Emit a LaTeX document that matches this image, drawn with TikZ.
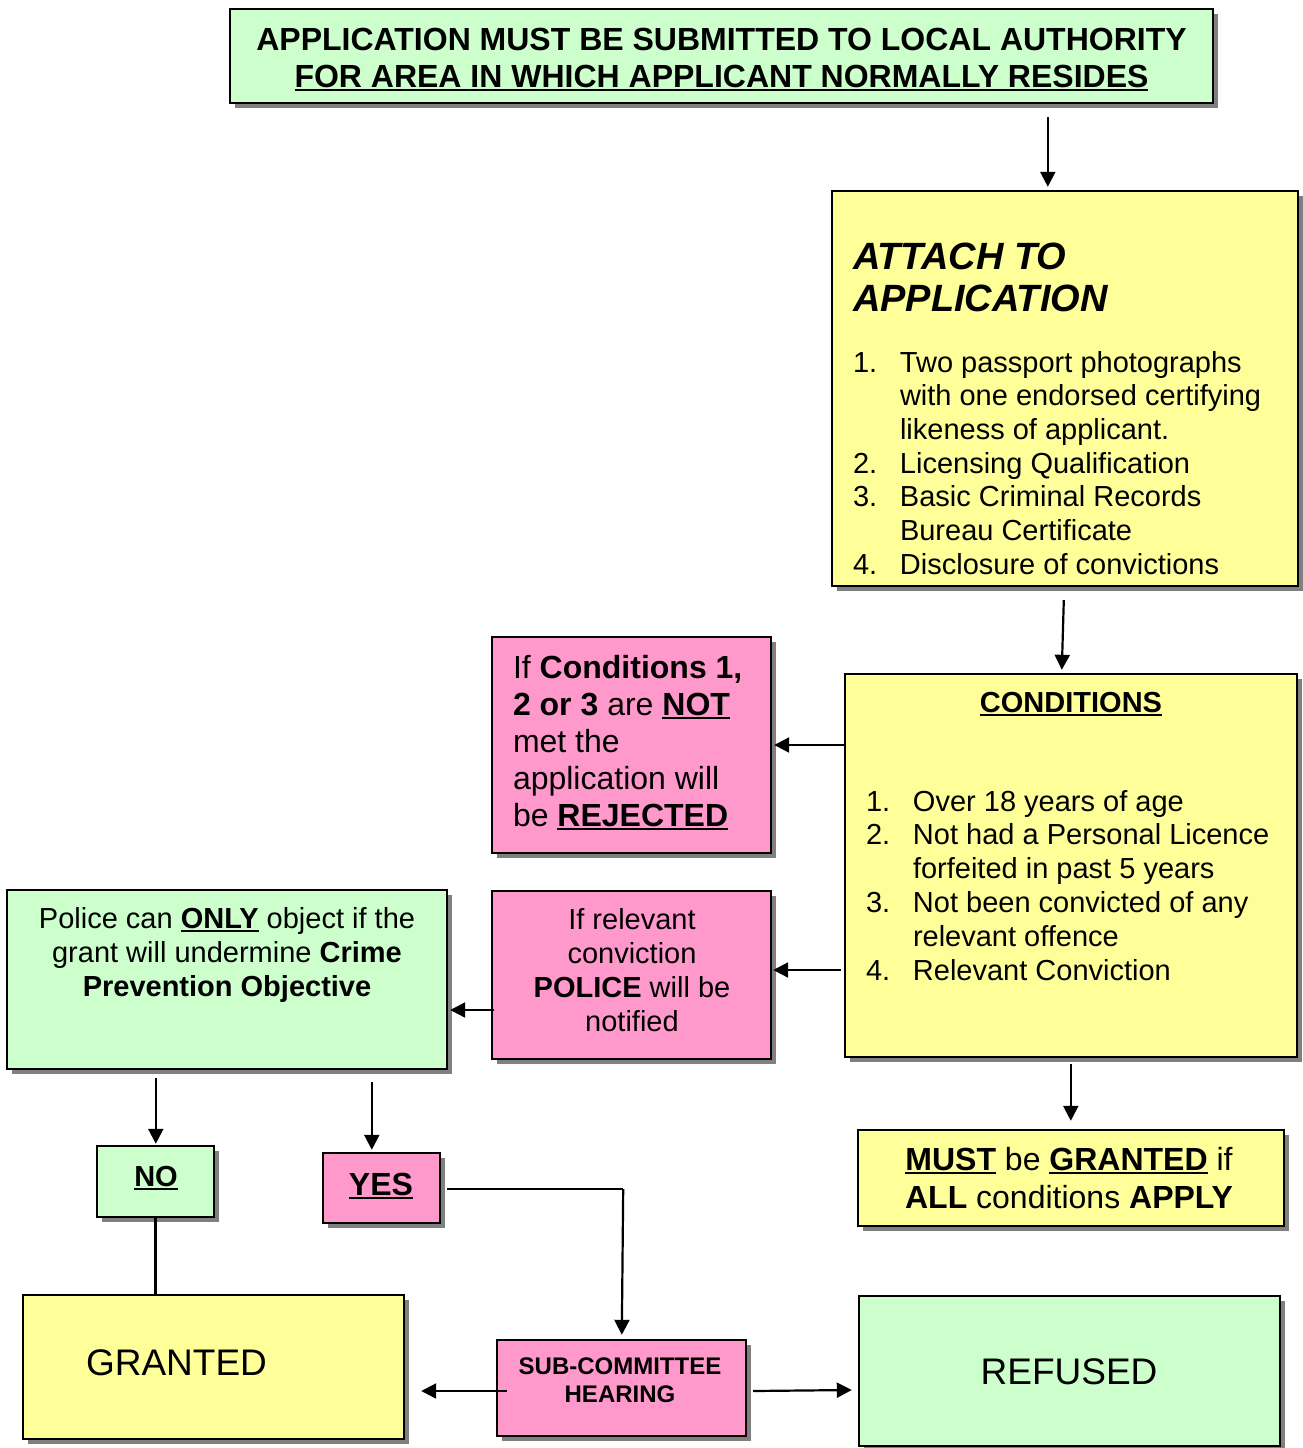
\documentclass[tikz,border=0pt]{standalone}
\usepackage{fontspec}
\setmainfont{Liberation Sans}
\usetikzlibrary{arrows.meta,shadows,calc}
\definecolor{boxgreen}{HTML}{CCFFCC}
\definecolor{boxyellow}{HTML}{FFFF99}
\definecolor{boxpink}{HTML}{FF99CC}
\definecolor{shadowgray}{HTML}{808080}
\newcommand\ulx[1]{\mbox{\setbox0\hbox{#1}\rlap{\rule[-0.14em]{\wd0}{0.085em}}\box0}}
\newcommand\fs[2]{\fontsize{#1}{#2}\selectfont}
\newcommand\itm[1]{\makebox[47pt][l]{#1}}
\tikzset{
  box/.style={draw=black, line width=2.4pt, rectangle, inner sep=0pt,
    drop shadow={shadow xshift=5pt, shadow yshift=-5pt, opacity=1, fill=shadowgray}},
  gbox/.style={box, fill=boxgreen},
  ybox/.style={box, fill=boxyellow},
  pbox/.style={box, fill=boxpink},
  txt/.style={inner sep=0pt, outer sep=0pt, text=black},
  arr/.style={line width=2.2pt, -{Triangle[length=15pt,width=15pt]}},
  ln/.style={line width=2.2pt}
}
\begin{document}
\begin{tikzpicture}[x=1pt,y=-1pt]
\useasboundingbox (0,0) rectangle (1302,1448);
% boxes
\node[gbox, minimum width=983pt, minimum height=94pt] (title) at (721.5,56) {};
\node[ybox, minimum width=466pt, minimum height=395pt] (attach) at (1065,388.5) {};
\node[ybox, minimum width=452pt, minimum height=383pt] (cond) at (1071,865.5) {};
\node[pbox, minimum width=279pt, minimum height=216pt] (rej) at (631.5,745) {};
\node[pbox, minimum width=279pt, minimum height=168pt] (pol) at (631.5,975) {};
\node[gbox, minimum width=440pt, minimum height=179pt] (obj) at (227,979.5) {};
\node[gbox, minimum width=117pt, minimum height=71pt] (no) at (155.5,1181.5) {};
\node[pbox, minimum width=117pt, minimum height=70pt] (yes) at (381.5,1188) {};
\node[ybox, minimum width=426pt, minimum height=96pt] (must) at (1071,1178) {};
\node[ybox, minimum width=381pt, minimum height=144pt] (granted) at (213.5,1367) {};
\node[pbox, minimum width=249pt, minimum height=96pt] (sub) at (621.5,1388) {};
\node[gbox, minimum width=421pt, minimum height=150pt] (refused) at (1069.5,1371) {};

% texts
\node[txt, anchor=base, font=\fs{32}{37}\bfseries] (titletext) at (721.5,50)
  {\begin{tabular}[t]{@{}c@{}}APPLICATION MUST BE SUBMITTED TO LOCAL AUTHORITY\\ \ulx{FOR AREA IN WHICH APPLICANT NORMALLY RESIDES}\end{tabular}};
\node[txt, anchor=base west, font=\fs{38}{42}\bfseries\itshape] (attachhead) at (853,269)
  {\begin{tabular}[t]{@{}l@{}}ATTACH TO\\ APPLICATION\end{tabular}};
\node[txt, anchor=base west, font=\fs{29}{33.7}] (attachlist) at (853,372)
  {\begin{tabular}[t]{@{}l@{}}
  \itm{1.}Two passport photographs\\
  \itm{}with one endorsed certifying\\
  \itm{}likeness of applicant.\\
  \itm{2.}Licensing Qualification\\
  \itm{3.}Basic Criminal Records\\
  \itm{}Bureau Certificate\\
  \itm{4.}Disclosure of convictions
  \end{tabular}};
\node[txt, anchor=base, font=\fs{29}{34}\bfseries] (condhead) at (1071,712) {\ulx{CONDITIONS}};
\node[txt, anchor=base west, font=\fs{29}{33.8}] (condlist) at (866,811)
  {\begin{tabular}[t]{@{}l@{}}
  \itm{1.}Over 18 years of age\\
  \itm{2.}Not had a Personal Licence\\
  \itm{}forfeited in past 5 years\\
  \itm{3.}Not been convicted of any\\
  \itm{}relevant offence\\
  \itm{4.}Relevant Conviction
  \end{tabular}};
\node[txt, anchor=base west, font=\fs{32}{37}] (rejtext) at (513,678)
  {\begin{tabular}[t]{@{}l@{}}
  If \textbf{Conditions 1,}\\
  \textbf{2 or 3} are \textbf{\ulx{NOT}}\\
  met the\\
  application will\\
  be \textbf{\ulx{REJECTED}}
  \end{tabular}};
\node[txt, anchor=base, font=\fs{29}{34}] (poltext) at (632,929)
  {\begin{tabular}[t]{@{}c@{}}
  If relevant\\
  conviction\\
  \textbf{POLICE} will be\\
  notified
  \end{tabular}};
\node[txt, anchor=base, font=\fs{29}{34}] (objtext) at (227,928)
  {\begin{tabular}[t]{@{}c@{}}
  Police can \textbf{\ulx{ONLY}} object if the\\
  grant will undermine \textbf{Crime}\\
  \textbf{Prevention Objective}
  \end{tabular}};
\node[txt, anchor=base, font=\fs{29}{34}\bfseries] (notext) at (156,1186) {\ulx{NO}};
\node[txt, anchor=base, font=\fs{32}{37}\bfseries] (yestext) at (381,1195) {\ulx{YES}};
\node[txt, anchor=base, font=\fs{32}{38}] (musttext) at (1069,1170)
  {\begin{tabular}[t]{@{}c@{}}
  \textbf{\ulx{MUST}} be \textbf{\ulx{GRANTED}} if\\
  \textbf{ALL} conditions \textbf{APPLY}
  \end{tabular}};
\node[txt, anchor=base west, font=\fs{37}{42}] (grantedtext) at (86,1375) {GRANTED};
\node[txt, anchor=base, font=\fs{37}{42}] (refusedtext) at (1069,1384) {REFUSED};
\node[txt, anchor=base, font=\fs{24}{28}\bfseries] (subtext) at (620,1374)
  {\begin{tabular}[t]{@{}c@{}}SUB-COMMITTEE\\ HEARING\end{tabular}};

% connectors
\draw[arr] ($(title.south west)+(819,13)$) -- ($(attach.north west)+(217,-3)$);
\draw[arr] ($(attach.south west)+(233,13)$) -- ($(cond.north west)+(218,-3)$);
\draw[arr] (cond.west |- rej.east) -- ($(rej.east)+(2,0)$);
\draw[arr] ($(cond.west |- pol.east)+(-3,-5)$) -- ($(pol.east)+(1,-5)$);
\draw[arr] ($(pol.west)+(3,35)$) -- ($(obj.east)+(2,30.5)$);
\draw[arr] ($(obj.south west)+(150,8)$) -- ($(no.north west)+(60,-1)$);
\draw[arr] ($(obj.south west)+(366,12)$) -- ($(yes.north west)+(50,-2)$);
\draw[ln] ($(yes.east)+(6,1)$) -- ($(yes.east)+(182,1)$) coordinate (yc);
\draw[arr] (yc) -- ($(sub.north west)+(126,-4)$);
\draw[ln] (no.south) -- (granted.north -| no.south);
\draw[arr] ($(sub.west)+(11,3)$) -- ($(granted.east)+(16,24)$);
\draw[arr] ($(sub.east)+(6,3)$) -- ($(refused.west)+(-6,19)$);
\draw[arr] ($(cond.south west)+(227,6)$) -- ($(must.north west)+(214,-8)$);
\end{tikzpicture}
\end{document}
